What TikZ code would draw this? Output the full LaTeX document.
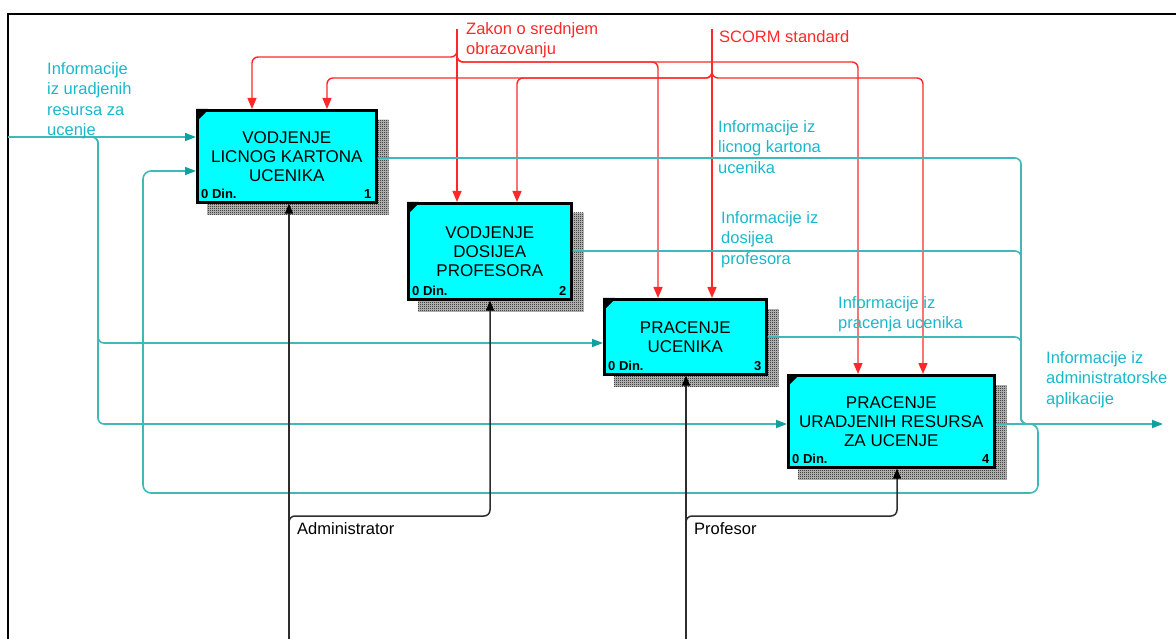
\documentclass[tikz,border=0pt]{standalone}
\usepackage{fontspec}
\setmainfont{Liberation Sans}
\usetikzlibrary{arrows.meta,patterns,backgrounds,calc}

\definecolor{boxcyan}{RGB}{0,255,255}
\definecolor{ctrlred}{RGB}{255,40,40}
\definecolor{flowteal}{RGB}{64,184,184}
\definecolor{tipteal}{RGB}{16,160,160}
\definecolor{labelteal}{RGB}{24,184,204}
\definecolor{mechgray}{RGB}{45,45,45}

% fine checkerboard used for the box shadows
\pgfdeclarepatternformonly{finechecker}{\pgfqpoint{0pt}{0pt}}{\pgfqpoint{2pt}{2pt}}{\pgfqpoint{2pt}{2pt}}{%
  \pgfpathrectangle{\pgfqpoint{0pt}{0pt}}{\pgfqpoint{1pt}{1pt}}%
  \pgfpathrectangle{\pgfqpoint{1pt}{1pt}}{\pgfqpoint{1pt}{1pt}}%
  \pgfusepath{fill}}

\begin{document}
\begin{tikzpicture}[x=1pt,y=-1pt,
  activity/.style={draw=black, line width=2.6pt, fill=boxcyan, anchor=north west,
    inner sep=0pt, align=center, font=\fontsize{17}{19}\selectfont},
  cost/.style={inner sep=0pt, font=\bfseries\fontsize{13}{14}\selectfont},
  lbl/.style={anchor=north west, inner sep=0pt, align=left,
    font=\fontsize{16.5}{20.5}\selectfont},
  ctrl/.style={draw=ctrlred, line width=1.4pt, rounded corners=6pt,
    -{Triangle[length=11pt,width=9pt]}},
  flow/.style={draw=flowteal, line width=1.6pt, rounded corners=6pt,
    -{Triangle[length=11pt,width=8pt,color=tipteal]}},
  flowline/.style={draw=flowteal, line width=1.6pt, rounded corners=6pt},
  mech/.style={draw=mechgray, line width=1.5pt, rounded corners=6pt,
    -{Triangle[length=10pt,width=8pt,color=black]}}]

\useasboundingbox (0,0) rectangle (1176,639);

% frame
\draw[line width=2.6pt] (8,650) -- (8,14) -- (1190,14);

% activity boxes
\node[activity, minimum width=179pt, minimum height=92pt] (b1) at (196,109)
  {VODJENJE\\LICNOG KARTONA\\UCENIKA};
\node[activity, minimum width=163pt, minimum height=96pt] (b2) at (407,202)
  {VODJENJE\\DOSIJEA\\PROFESORA};
\node[activity, minimum width=162pt, minimum height=75pt] (b3) at (603,298)
  {PRACENJE\\UCENIKA};
\node[activity, minimum width=206pt, minimum height=92pt] (b4) at (787,374)
  {PRACENJE\\URADJENIH RESURSA\\ZA UCENJE};

% shadows, corner marks, cost and number labels
\begin{scope}[on background layer]
  \foreach \b in {b1,b2,b3,b4}{
    \fill[gray!45] ($(\b.north west)+(11,11)$) rectangle ($(\b.south east)+(11,11)$);
    \fill[pattern=finechecker] ($(\b.north west)+(11,11)$) rectangle ($(\b.south east)+(11,11)$);
  }
\end{scope}
\foreach \b/\n in {b1/1,b2/2,b3/3,b4/4}{
  \fill ($(\b.north west)+(0,12)$) -- (\b.north west) -- ($(\b.north west)+(12,0)$)
        -- ($(\b.north west)+(11,2)$) -- ($(\b.north west)+(2,11)$) -- cycle;
  \node[cost, anchor=base west] (\b cost) at ($(\b.south west)+(5,-5)$) {0 Din.};
  \node[cost, anchor=base east] (\b num) at ($(\b.south east)+(-6,-5)$) {\n};
}

% controls
\coordinate (zakonTop) at (457,29);
\coordinate (scormTop) at (712,29);
\draw[ctrl] (zakonTop) -- (zakonTop |- b2.north);
\draw[ctrl] (457,48) |- (252,57) -- (252,57 |- b1.north);
\draw[ctrl] (457,50) |- (658,62) -- (658,62 |- b3.north);
\draw[ctrl] (457,50) |- (858,62) -- (858,62 |- b4.north);
\draw[ctrl] (scormTop) -- (scormTop |- b3.north);
\draw[ctrl] (712,66) |- (327,78) -- (327,78 |- b1.north);
\draw[ctrl] (712,66) |- (517,78) -- (517,78 |- b2.north);
\draw[ctrl] (712,66) |- (923,78) -- (923,78 |- b4.north);

\node[lbl, text=ctrlred] (lbZakon) at (466,22) {Zakon o srednjem\\obrazovanju};
\node[lbl, text=ctrlred] (lbScorm) at (719,30) {SCORM standard};

% inputs
\coordinate (srcIn) at (8,137);
\draw[flow] (srcIn) -- (srcIn -| b1.west);
\coordinate (jIn3) at (98,343);
\coordinate (jIn4) at (98,424);
\draw[flow] (86,137) -| (jIn3) -- (jIn3 -| b3.west);
\draw[flow] (86,137) -| (jIn4) -- (jIn4 -| b4.west);
\node[lbl, text=labelteal] (lbInput) at (47,62) {Informacije\\iz uradjenih\\resursa za\\ucenje};

% feedback loop into box 1
\coordinate (jBack) at (143,171);
\draw[flow, rounded corners=8pt] (1022,424) -| (1038,493) -| (jBack) -- (jBack -| b1.west);

% outputs merging into the final output
\coordinate (outEnd) at (1163,424);
\draw[flowline] (b1.east |- 0,158) -| (1021,424) -- (1034,424);
\draw[flowline] (b2.east |- 0,251) -| (1021,424) -- (1034,424);
\draw[flowline] (b3.east |- 0,337) -| (1021,424) -- (1034,424);
\draw[flow] (outEnd -| b4.east) -- (outEnd);

\node[lbl, text=labelteal] (lbOut1) at (718,120) {Informacije iz\\licnog kartona\\ucenika};
\node[lbl, text=labelteal] (lbOut2) at (721,211) {Informacije iz\\dosijea\\profesora};
\node[lbl, text=labelteal] (lbOut3) at (838,296) {Informacije iz\\pracenja ucenika};
\node[lbl, text=labelteal] (lbOutput) at (1046,351) {Informacije iz\\administratorske\\aplikacije};

% mechanisms
\coordinate (admBot) at (289,650);
\coordinate (profBot) at (686,650);
\draw[mech] (admBot) -- (admBot |- b1.south);
\draw[mech] (289,526) |- (490,516) -- (490,516 |- b2.south);
\draw[mech] (profBot) -- (profBot |- b3.south);
\draw[mech] (686,526) |- (897,516) -- (897,516 |- b4.south);

\node[lbl] (lbAdmin) at (297,522) {Administrator};
\node[lbl] (lbProf) at (694,522) {Profesor};

\end{tikzpicture}
\end{document}
